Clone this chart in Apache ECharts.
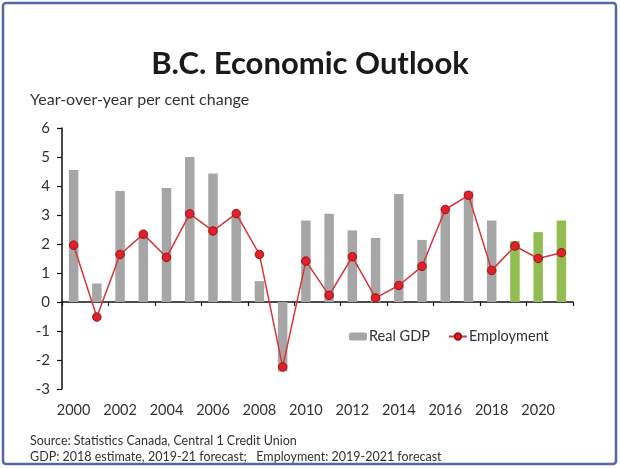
<!DOCTYPE html>
<html>
<head>
<meta charset="utf-8">
<script src="https://cdn.jsdelivr.net/npm/echarts@6/dist/echarts.min.js"></script>
<style>html,body{margin:0;padding:0;background:#fff}#c{width:620px;height:469px}</style>
</head>
<body>
<div id="c"></div>
<script>
const years = ['2000','2001','2002','2003','2004','2005','2006','2007','2008','2009','2010','2011','2012','2013','2014','2015','2016','2017','2018','2019','2020','2021'];
const gdp = [4.55, 0.64, 3.83, 2.3, 3.93, 5.0, 4.43, 2.95, 0.72, -2.4, 2.81, 3.04, 2.47, 2.21, 3.72, 2.14, 3.1, 3.82, 2.81, 2.1, 2.41, 2.81];
const employment = [1.96, -0.52, 1.64, 2.34, 1.54, 3.04, 2.45, 3.05, 1.64, -2.24, 1.41, 0.23, 1.56, 0.14, 0.57, 1.23, 3.19, 3.68, 1.09, 1.93, 1.5, 1.7];
const forecastYears = ['2019','2020','2021'];
const yTicks = {min: -3, max: 6, interval: 1};
const titleText = 'B.C. Economic Outlook';
const subtitleText = 'Year-over-year per cent change';
const sourceText = 'Source: Statistics Canada, Central 1 Credit Union';
const noteText = 'GDP: 2018 estimate, 2019-21 forecast;   Employment: 2019-2021 forecast';

const FONT = 'Lato';
const chart = echarts.init(document.getElementById('c'), null, {renderer: 'canvas'});
const gdpData = gdp.map((v, i) => forecastYears.includes(years[i])
  ? {value: v, itemStyle: {color: '#92bd52'}}
  : v);

chart.setOption({
  backgroundColor: '#ffffff',
  animation: false,
  textStyle: {fontFamily: FONT},
  title: {
    text: titleText,
    left: 'center',
    top: 43,
    textStyle: {fontFamily: FONT, fontSize: 31, fontWeight: 'bold', color: '#1a1a1a'}
  },
  legend: {
    data: ['Real GDP', 'Employment'],
    left: 344,
    top: 324,
    itemGap: 18,
    itemWidth: 18,
    itemHeight: 8,
    textStyle: {fontFamily: FONT, fontSize: 14.5, color: '#333', padding: [0, 0, 0, -3]}
  },
  grid: {left: 62, right: 47, top: 128, bottom: 80, containLabel: false},
  xAxis: [
    {
      type: 'category',
      data: years,
      axisLine: {onZero: true, lineStyle: {color: '#111', width: 1.5}},
      axisTick: {show: true, length: 4, lineStyle: {color: '#111', width: 1.2}},
      axisLabel: {show: false},
      splitLine: {show: false}
    },
    {
      type: 'category',
      data: years,
      position: 'bottom',
      axisLine: {show: false},
      axisTick: {show: false},
      axisLabel: {show: true, interval: 1, margin: 14, fontFamily: FONT, fontSize: 14.5, color: '#333'},
      splitLine: {show: false}
    }
  ],
  yAxis: {
    type: 'value',
    min: yTicks.min,
    max: yTicks.max,
    interval: yTicks.interval,
    axisLine: {show: true, lineStyle: {color: '#111', width: 1.5}},
    axisTick: {show: true, length: 5, lineStyle: {color: '#111', width: 1.2}},
    axisLabel: {margin: 12, fontFamily: FONT, fontSize: 15, color: '#333'},
    splitLine: {show: false}
  },
  series: [
    {
      name: 'Real GDP',
      type: 'bar',
      xAxisIndex: 0,
      data: gdpData,
      barWidth: 9.5,
      itemStyle: {color: '#a6a6a6'}
    },
    {
      name: 'Employment',
      type: 'line',
      xAxisIndex: 0,
      data: employment,
      symbol: 'circle',
      symbolSize: 8.5,
      lineStyle: {color: '#d9333b', width: 1.5},
      itemStyle: {color: '#e0202a', borderColor: '#9e1010', borderWidth: 1}
    }
  ],
  graphic: [
    {
      type: 'rect',
      shape: {x: 3, y: 3, width: 613, height: 461, r: 3},
      style: {fill: 'none', stroke: '#5468a6', lineWidth: 2.5},
      silent: true
    },
    {
      type: 'text',
      left: 30,
      top: 92,
      style: {text: subtitleText, font: '16px ' + FONT, fill: '#333'}
    },
    {
      type: 'text',
      left: 30,
      top: 434,
      style: {text: sourceText, font: '12.5px ' + FONT, fill: '#333'}
    },
    {
      type: 'text',
      left: 30,
      top: 450,
      style: {text: noteText, font: '12.5px ' + FONT, fill: '#333'}
    }
  ]
});
</script>
</body>
</html>
